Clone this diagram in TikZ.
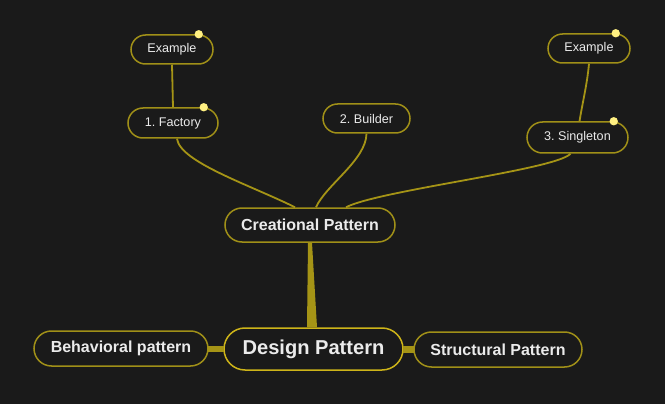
\documentclass[tikz,border=0pt]{standalone}
\usepackage{fontspec}
\setmainfont{Liberation Sans}
\usetikzlibrary{calc}
\frenchspacing
\definecolor{bg}{RGB}{26,26,26}
\definecolor{edge}{RGB}{165,148,22}
\definecolor{border}{RGB}{160,144,24}
\definecolor{mainborder}{RGB}{205,180,25}
\definecolor{txt}{RGB}{235,235,235}
\definecolor{dotc}{RGB}{255,240,130}
\tikzset{
  mnode/.style={draw=border, line width=1.5pt, rectangle, text=txt, inner sep=0pt, align=center},
  small/.style={mnode, font=\fontsize{12.6}{14}\selectfont},
  mid/.style={mnode, font=\bfseries\fontsize{16}{18}\selectfont},
  conn/.style={draw=edge, line width=1.8pt},
  pin/.style={fill=dotc, draw=none}
}
\begin{document}
\begin{tikzpicture}[x=1pt,y=-1pt]
\useasboundingbox[fill=bg] (0,0) rectangle (665,404);
% nodes
\node[small, minimum width=82pt, minimum height=29pt, rounded corners=14.5pt] (ex1) at (172,49.5) {Example};
\node[small, minimum width=90pt, minimum height=30pt, rounded corners=15pt] (fac) at (173,123) {1. Factory};
\node[small, minimum width=87pt, minimum height=29pt, rounded corners=14.5pt] (bld) at (366.5,118.5) {2. Builder};
\node[small, minimum width=82pt, minimum height=29pt, rounded corners=14.5pt] (ex2) at (589,48.5) {Example};
\node[small, minimum width=101pt, minimum height=31pt, rounded corners=15.5pt] (sgl) at (577.5,137.5) {3. Singleton};
\node[mid, minimum width=170pt, minimum height=34pt, rounded corners=17pt] (cp) at (310,225) {Creational Pattern};
\node[mnode, draw=mainborder, font=\bfseries\fontsize{20.1}{22}\selectfont, minimum width=179pt, minimum height=42pt, rounded corners=21pt] (dp) at (313.5,349) {Design Pattern};
\node[mid, minimum width=174pt, minimum height=35pt, rounded corners=17.5pt] (bp) at (121,348.5) {Behavioral pattern};
\node[mid, minimum width=168pt, minimum height=35pt, rounded corners=17.5pt] (sp) at (498,349.5) {Structural Pattern};
% thick connectors
\fill[edge] ($(cp.south)+(-2,0)$) -- ($(cp.south)+(2,0)$) -- ($(dp.north)+(3.5,0)$) -- ($(dp.north)+(-6.5,0)$) -- cycle;
\fill[edge] ($(bp.east)+(-1,-3)$) rectangle ($(dp.west)+(1,3)$);
\fill[edge] ($(dp.east)+(-1,-3)$) rectangle ($(sp.west)+(1,3)$);
% thin connectors
\draw[conn] ($(cp.north)+(-15,0)$) .. controls (250,185) and (180,162) .. ($(fac.south)+(4,0)$);
\draw[conn] ($(cp.north)+(6,0)$) .. controls (326,185) and (366,160) .. (bld.south);
\draw[conn] ($(cp.north)+(36,0)$) .. controls (380,190) and (555,170) .. ($(sgl.south)+(-7,0)$);
\draw[conn] (fac.north) -- (ex1.south);
\draw[conn] ($(sgl.north)+(2,0)$) .. controls (583,100) and (587,85) .. (ex2.south);
% pins
\fill[pin] ($(ex1.north east)+(-15,0)$) circle (4.2);
\fill[pin] ($(fac.north east)+(-15,0)$) circle (4.2);
\fill[pin] ($(ex2.north east)+(-15,0)$) circle (4.2);
\fill[pin] ($(sgl.north east)+(-15,0)$) circle (4.2);
\end{tikzpicture}
\end{document}
